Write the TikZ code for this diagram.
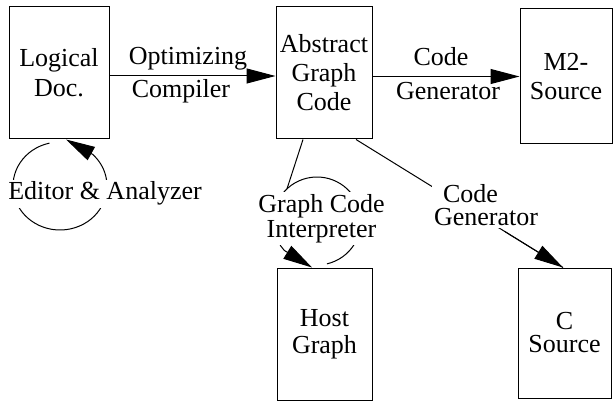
\documentclass[tikz,border=0pt]{standalone}
\usepackage{fontspec}
\setmainfont{Liberation Serif}
\usetikzlibrary{arrows.meta,calc}
\newcommand{\txt}[1]{\fontsize{26}{#1}\selectfont}
\begin{document}
\begin{tikzpicture}[x=1pt,y=1pt,
  every node/.style={inner sep=0pt, text=black},
  box/.style={draw, line width=1pt, rectangle, align=center},
  arr/.style={line width=1pt, -{Triangle[length=29pt,width=15pt]}},
  link/.style={line width=1pt},
  lbl/.style={fill=white, inner sep=2pt, align=center}]
\useasboundingbox (0,0) rectangle (613,402);

% documents and code representations
\node[box, minimum width=100pt, minimum height=132pt, font=\txt{30}] (logical) at (59,329) {Logical\\Doc.};
\node[box, minimum width=96pt, minimum height=132pt, font=\txt{29}] (abstract) at (324,329) {Abstract\\Graph\\Code};
\node[box, minimum width=92pt, minimum height=135pt, font=\txt{29}] (m2) at (566,325.5) {M2-\\Source};
\node[box, minimum width=95pt, minimum height=132pt, font=\txt{27}] (host) at (324.5,68) {Host\\Graph};
\node[box, minimum width=93pt, minimum height=130pt, font=\txt{23}] (csrc) at (564.5,69) {C\\Source};

% compilation steps
\draw[arr] ([yshift=-3pt]logical.east) -- ([yshift=-3pt]abstract.west)
  node[midway, anchor=base, xshift=-4.5pt, yshift=11pt, font=\txt{30}] (optlbl) {Optimizing}
  node[midway, anchor=base, xshift=-11.5pt, yshift=-22pt, font=\txt{30}] (cmplbl) {Compiler};
\draw[arr] (abstract.east |- m2.west) -- (m2.west)
  node[midway, anchor=base, xshift=-5pt, yshift=11pt, font=\txt{30}] (cglbl) {Code}
  node[midway, anchor=base, xshift=2pt, yshift=-23pt, font=\txt{30}] (gnlbl) {Generator};

% generator towards C
\coordinate (cfrom) at ([xshift=32pt]abstract.south);
\coordinate (cto) at ([xshift=-1.5pt]csrc.north);
\draw[link] (cfrom) -- (cto);
\node[lbl, font=\txt{23}] (cgen) at (486,196.5) {Code\hspace*{31pt}\\Generator};
\draw[arr] ($(cfrom)!0.72!(cto)$) -- (cto);

% editor loop on the logical document
\coordinate (eloop) at (60,216);
\draw[arr] ($(eloop)+(103:47pt and 44pt)$) arc[start angle=103, end angle=406, x radius=47pt, y radius=44pt]
  -- ([xshift=7pt]logical.south);
\node[lbl, font=\txt{30}, anchor=base] (edlbl) at (105,202) {Editor \& Analyzer};

% interpreter loop on the host graph
\coordinate (gloop) at (317,181);
\draw[link] ([xshift=-21pt]abstract.south) -- ($(gloop)+(133:44pt)$);
\draw[arr] ($(gloop)+(283:44pt)$) arc[start angle=283, end angle=582, radius=44pt]
  -- ([xshift=-12.5pt]host.north);
\node[lbl, font=\txt{25}] (gilbl) at (321.5,183.6) {Graph Code\\Interpreter};
\end{tikzpicture}
\end{document}
